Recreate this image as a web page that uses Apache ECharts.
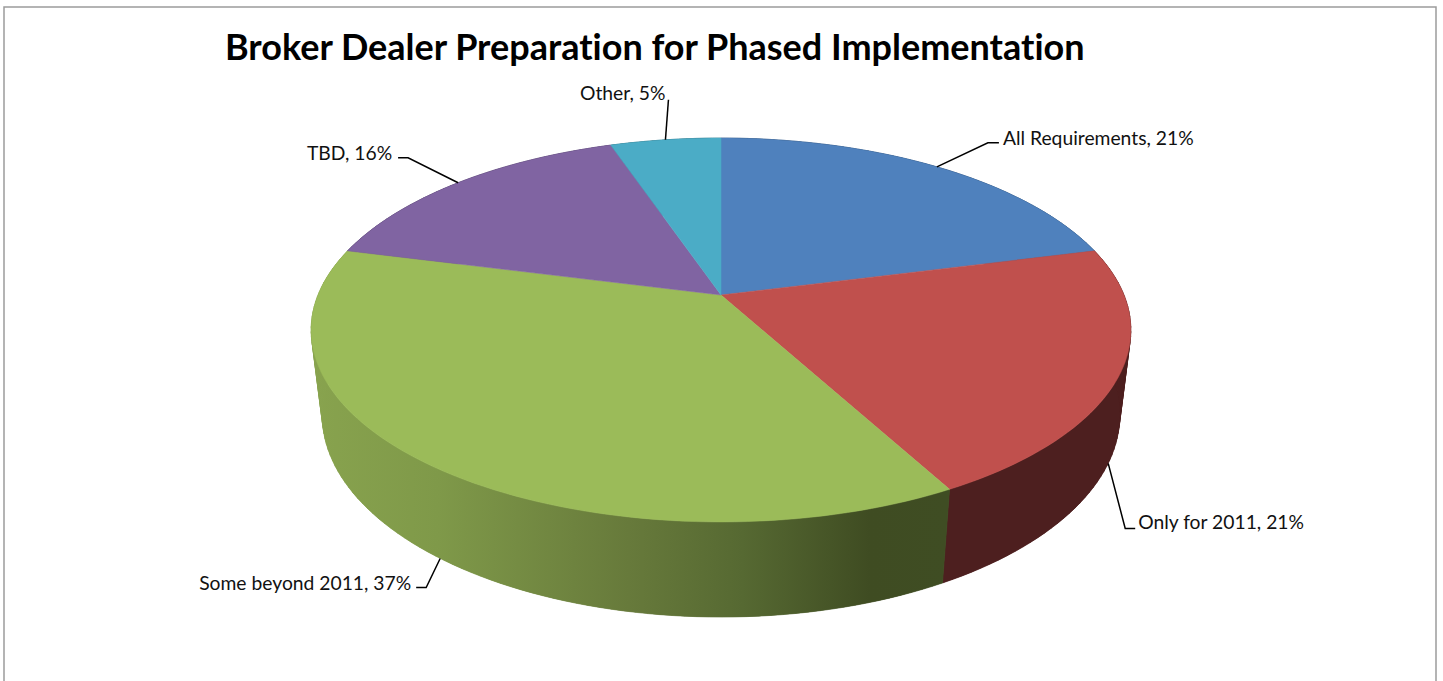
<!DOCTYPE html>
<html>
<head>
<meta charset="utf-8">
<script src="https://cdn.jsdelivr.net/npm/echarts@6/dist/echarts.min.js"></script>
<style>html,body{margin:0;padding:0;background:#fff;overflow:hidden}#c{width:1443px;height:681px;font-variant-ligatures:none}#c text{font-variant-ligatures:none}</style>
</head>
<body>
<div id="c"></div>
<script>
// ---- data ----
const categories = ['All Requirements', 'Only for 2011', 'Some beyond 2011', 'TBD', 'Other'];
const shares = [21, 21.1, 36.9, 15.8, 5.2];
const chartTitle = 'Broker Dealer Preparation for Phased Implementation';

// ---- styles ----
const topColors = ['#4F81BD', '#C0504D', '#9BBB59', '#8064A2', '#4BACC6'];
const wallFills = [
  '#2f4d71', '#4d1f1f',
  { type: 'linear', global: true, x: 311, y: 0, x2: 946, y2: 0, colorStops: [
    { offset: 0, color: '#88a34e' }, { offset: 0.2, color: '#7f9949' },
    { offset: 0.5, color: '#677a3b' }, { offset: 0.68, color: '#566932' },
    { offset: 0.88, color: '#3f4c22' }, { offset: 1, color: '#3f4d23' }
  ] },
  '#4c3c61', '#2d6776'
];
// leader elbow, leader end and text anchor, offset from the point on the rim
const labelLayout = [
  { elbow: [51, -24], end: [62, -24], text: [66, -29], align: 'left' },
  { elbow: [17, 65], end: [27, 65], text: [30, 58], align: 'left' },
  { elbow: [-14, 29], end: [-24, 29], text: [-29, 24], align: 'right' },
  { elbow: [-50, -25], end: [-60, -25], text: [-66, -30], align: 'right' },
  { elbow: [3, -40], end: [3, -40], text: [0, -47], align: 'right' }
];
const FONT = 'Lato, Carlito, Calibri, sans-serif';

// ---- perspective projection of the disc ----
const view = { cx: 721, apexY: 295, radX: 403, radY: 131.8, tilt: -0.1823, depthW: 0.0268, depthY: 94.3 };
function project(angle, r, z) {
  const u = r * Math.sin(angle), v = -r * Math.cos(angle);
  const w = 1 + view.tilt * v + view.depthW * z;
  return [view.cx + view.radX * u / w, (view.apexY + view.radY * v + view.depthY * z) / w];
}
const total = shares.reduce((a, b) => a + b, 0);
const toAngle = s => echarts.number.linearMap(s, [0, total], [0, Math.PI * 2]);
let running = 0;
const rows = shares.map((s, i) => { const row = [s, running, i]; running += s; return row; });
const STEP = Math.PI / 120;
function arcAngles(a0, a1) {
  const n = Math.max(1, Math.ceil((a1 - a0) / STEP)), out = [];
  for (let k = 0; k <= n; k++) out.push(a0 + (a1 - a0) * k / n);
  return out;
}

function renderWall(params, api) {
  const i = api.value(2), a0 = toAngle(api.value(1)), a1 = toAngle(api.value(1) + api.value(0));
  const angles = arcAngles(a0, a1), children = [];
  // thin strips give the true silhouette where the rim turns away
  for (let k = 0; k < angles.length - 1; k++) {
    children.push({
      type: 'polygon', silent: true,
      shape: { points: [project(angles[k], 1, 0), project(angles[k + 1], 1, 0), project(angles[k + 1], 1, 1), project(angles[k], 1, 1)] },
      style: { fill: wallFills[i], stroke: wallFills[i], lineWidth: 0.6 }
    });
  }
  // one solid face on top hides the seams between strips
  const upper = angles.map(a => project(a, 1, 0));
  const lower = angles.slice().reverse().map(a => project(a, 1, 1));
  children.push({ type: 'polygon', silent: true, shape: { points: upper.concat(lower) }, style: { fill: wallFills[i] } });
  return { type: 'group', children };
}
function renderTop(params, api) {
  const i = api.value(2), a0 = toAngle(api.value(1)), a1 = toAngle(api.value(1) + api.value(0));
  const points = [project(0, 0, 0)].concat(arcAngles(a0, a1).map(a => project(a, 1, 0)));
  return { type: 'polygon', silent: true, shape: { points }, style: { fill: topColors[i], stroke: topColors[i], lineWidth: 0.5 } };
}
function renderLabel(params, api) {
  const i = api.value(2), mid = toAngle(api.value(1) + api.value(0) / 2);
  const front = -Math.cos(mid) > 0;
  const p = project(mid, 1, front ? 1 : 0), L = labelLayout[i];
  const at = o => [p[0] + o[0], p[1] + o[1]];
  return { type: 'group', children: [
    { type: 'polyline', silent: true, shape: { points: [p, at(L.elbow), at(L.end)] }, style: { fill: null, stroke: '#000', lineWidth: 1.5 } },
    { type: 'text', silent: true, x: at(L.text)[0], y: at(L.text)[1],
      style: { text: categories[i] + ', ' + Math.round(api.value(0) / total * 100) + '%', align: L.align, verticalAlign: 'middle', fill: '#111', font: '19.3px ' + FONT } }
  ] };
}

const chart = echarts.init(document.getElementById('c'), null, { renderer: 'svg' });
chart.setOption({
  animation: false,
  backgroundColor: '#fff',
  title: { text: chartTitle, left: 225, top: 28, padding: 0, textStyle: { fontFamily: FONT, fontWeight: 'bold', fontSize: 36, color: '#000' } },
  graphic: [{ type: 'rect', silent: true, z: -1, shape: { x: 4, y: 7, width: 1432, height: 720 }, style: { fill: null, stroke: '#9c9c9c', lineWidth: 1.5 } }],
  series: [
    { type: 'custom', name: 'walls', coordinateSystem: 'none', silent: true, data: rows, z: 2, renderItem: renderWall },
    { type: 'custom', name: 'tops', coordinateSystem: 'none', silent: true, data: rows, z: 3, renderItem: renderTop },
    { type: 'custom', name: 'labels', coordinateSystem: 'none', silent: true, data: rows, z: 4, renderItem: renderLabel }
  ]
});
</script>
</body>
</html>
